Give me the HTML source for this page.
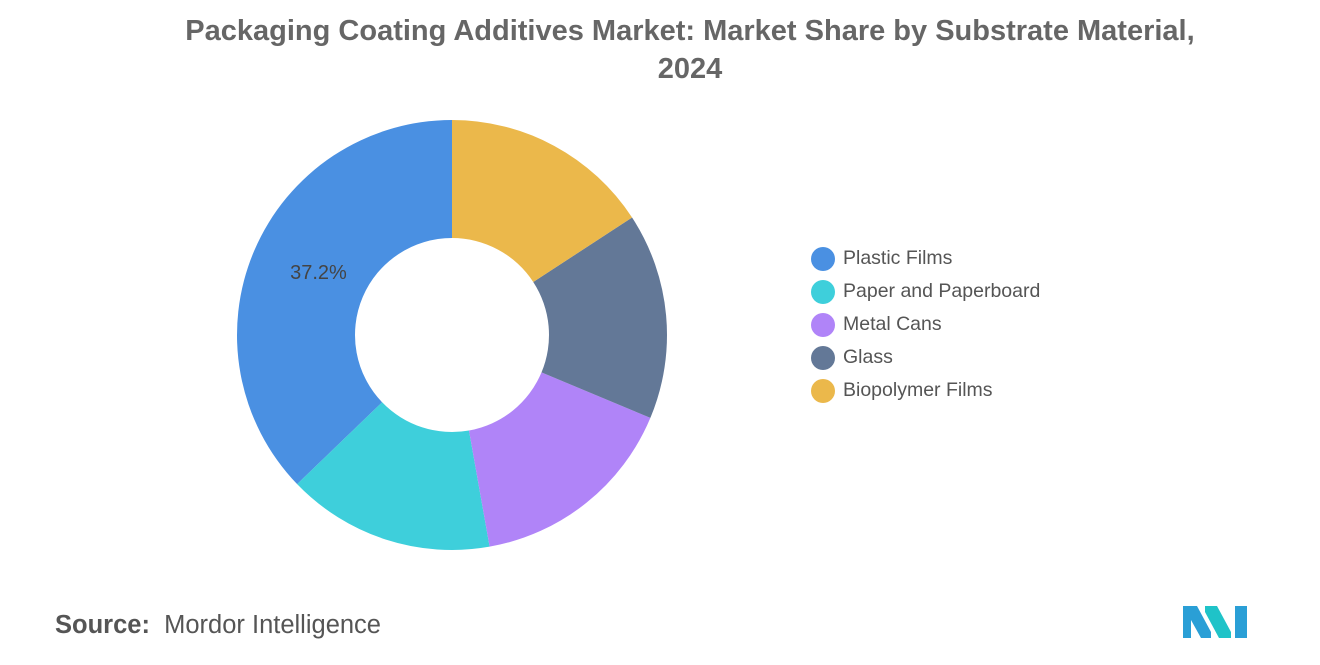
<!DOCTYPE html>
<html><head><meta charset="utf-8">
<style>
body{margin:0;width:1320px;height:665px;background:#fff;font-family:"Liberation Sans",sans-serif;overflow:hidden;position:relative}
.title{position:absolute;left:0;width:1380px;top:12px;text-align:center;font-size:29px;font-weight:bold;color:#666;line-height:38px;letter-spacing:0px}
.legend{position:absolute;left:811px;top:242px}
.li{height:33px;display:flex;align-items:center;font-size:19.5px;color:#555}
.dot{width:24px;height:24px;border-radius:50%;margin-right:8px}
.src{position:absolute;left:55px;top:611px;font-size:25.5px;color:#555}
</style></head><body>
<div class="title">Packaging Coating Additives Market: Market Share by Substrate Material,<br>2024</div>
<svg id="chart" width="1320" height="665" style="position:absolute;left:0;top:0"></svg>
<div class="legend" id="legend"></div>
<div class="src"><b>Source:</b>&nbsp; Mordor Intelligence</div>
<svg style="position:absolute;left:1183px;top:602px" width="70" height="38">
<polygon points="0,36 0,4 14,4 28,30 28,36 18,36 8,18 8,36" fill="#2a9fd6"/>
<polygon points="22,4 34,4 48,30 48,36 36,36 22,10" fill="#1fc3c8"/>
<polygon points="52,4 64,4 64,36 52,36" fill="#2a9fd6"/>
</svg>
<script>
const categories=["Plastic Films","Paper and Paperboard","Metal Cans","Glass","Biopolymer Films"];
const values=[37.2,15.6,15.9,15.5,15.8];
const colors=["#4A90E2","#3ECFDB","#B084F8","#637897","#EBB84B"];
const labels=["37.2%","","","",""];
const cx=452,cy=335,R=215,r=97;
const svg=document.getElementById('chart');
const NS="http://www.w3.org/2000/svg";
const total=values.reduce((a,b)=>a+b,0);
function pt(a,rad){return [cx+rad*Math.sin(a),cy-rad*Math.cos(a)];}
let start=0;
values.forEach((v,i)=>{
  const sweep=v/total*2*Math.PI;
  const a0=-start,a1=-(start+sweep);
  const [x0,y0]=pt(a0,R),[x1,y1]=pt(a1,R),[x2,y2]=pt(a1,r),[x3,y3]=pt(a0,r);
  const lg=sweep>Math.PI?1:0;
  const p=document.createElementNS(NS,'path');
  p.setAttribute('d',`M${x0},${y0}A${R},${R} 0 ${lg} 0 ${x1},${y1}L${x2},${y2}A${r},${r} 0 ${lg} 1 ${x3},${y3}Z`);
  p.setAttribute('fill',colors[i]);
  
  
  svg.appendChild(p);
  if(labels[i]){
    const [lx,ly]=pt(-(start+sweep/2),(R+r)/2);
    const t=document.createElementNS(NS,'text');
    t.setAttribute('x',lx+10);t.setAttribute('y',ly+5);
    t.setAttribute('text-anchor','middle');t.setAttribute('font-size','20');t.setAttribute('fill','#444');
    t.textContent=labels[i];
    
    
    svg.appendChild(t);
  }
  start+=sweep;
});
const lg=document.getElementById('legend');
categories.forEach((c,i)=>{
  const d=document.createElement('div');d.className='li';
  d.innerHTML=`<span class="dot" style="background:${colors[i]}"></span>${c}`;
  
  
  lg.appendChild(d);
});
</script>
</body></html>
